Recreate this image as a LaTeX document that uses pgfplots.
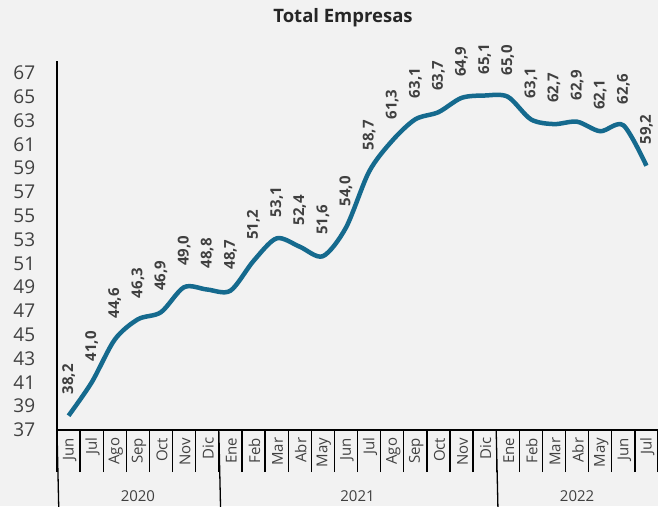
\documentclass[border=0pt]{standalone}
\usepackage{fontspec}
\setmainfont{Open Sans}
\usepackage{pgfplots}
\pgfplotsset{compat=1.18}
\definecolor{bgc}{HTML}{F2F2F2}
\definecolor{linec}{HTML}{156A8E}
\definecolor{txt}{HTML}{404040}
\definecolor{titlec}{HTML}{262626}

\begin{document}
\begin{tikzpicture}
\fill[bgc] (-57pt,-76pt) rectangle (601pt,430pt);
\node[font=\bfseries\fontsize{18.5}{20}\selectfont, text=titlec] at (286pt,412pt) {Total Empresas};
\begin{axis}[
    at={(0pt,0pt)}, anchor=south west,
    scale only axis, width=601pt, height=369pt,
    xmin=-0.5, xmax=25.5,
    ymin=37, ymax=68,
    axis x line*=bottom, axis y line*=left,
    axis line style={black, line width=1.3pt},
    ytick={37,39,...,67},
    ytick style={draw=none},
    yticklabel style={font=\fontsize{19}{20}\selectfont, text=txt, xshift=-14pt},
    xtick={0,...,25},
    xticklabels={Jun,Jul,Ago,Sep,Oct,Nov,Dic,Ene,Feb,Mar,Abr,May,Jun,Jul,Ago,Sep,Oct,Nov,Dic,Ene,Feb,Mar,Abr,May,Jun,Jul},
    xticklabel style={font=\fontsize{15}{16}\selectfont, text=txt, rotate=90, anchor=east, yshift=-1pt},
    major x tick style={draw=none},
    minor xtick={-0.5,0.5,...,25.5},
    minor tick length=42pt,
    minor x tick style={black, line width=1.3pt},
    tick align=outside,
    /pgf/number format/assume math mode=true,
    clip=false,
    nodes near coords={\pgfmathprintnumber[fixed,fixed zerofill,precision=1,use comma]{\pgfplotspointmeta}},
    every node near coord/.append style={font=\bfseries\fontsize{15}{16}\selectfont, text=txt, rotate=90, anchor=west, inner xsep=19pt},
]
\addplot[color=linec, line width=4.5pt, smooth, mark=none] coordinates {
    (0,38.2) (1,41.0) (2,44.6) (3,46.3) (4,46.9) (5,49.0) (6,48.8)
    (7,48.7) (8,51.2) (9,53.1) (10,52.4) (11,51.6) (12,54.0) (13,58.7)
    (14,61.3) (15,63.1) (16,63.7) (17,64.9) (18,65.1) (19,65.0) (20,63.1)
    (21,62.7) (22,62.9) (23,62.1) (24,62.6) (25,59.2)
};
% group separators and year labels
\draw[black, line width=1.3pt] (axis cs:-0.5,37) -- ++(0,-76pt);
\draw[black, line width=1.3pt] (axis cs:6.5,37) -- ++(0,-76pt);
\draw[black, line width=1.3pt] (axis cs:18.5,37) -- ++(0,-76pt);
\node[font=\fontsize{15}{16}\selectfont, text=txt] at ([yshift=-66pt]axis cs:3,37) {2020};
\node[font=\fontsize{15}{16}\selectfont, text=txt] at ([yshift=-66pt]axis cs:12.5,37) {2021};
\node[font=\fontsize{15}{16}\selectfont, text=txt] at ([yshift=-66pt]axis cs:22,37) {2022};
\end{axis}
\pgfresetboundingbox
\path (-57pt,-76pt) rectangle (601pt,430pt);
\end{tikzpicture}
\end{document}
